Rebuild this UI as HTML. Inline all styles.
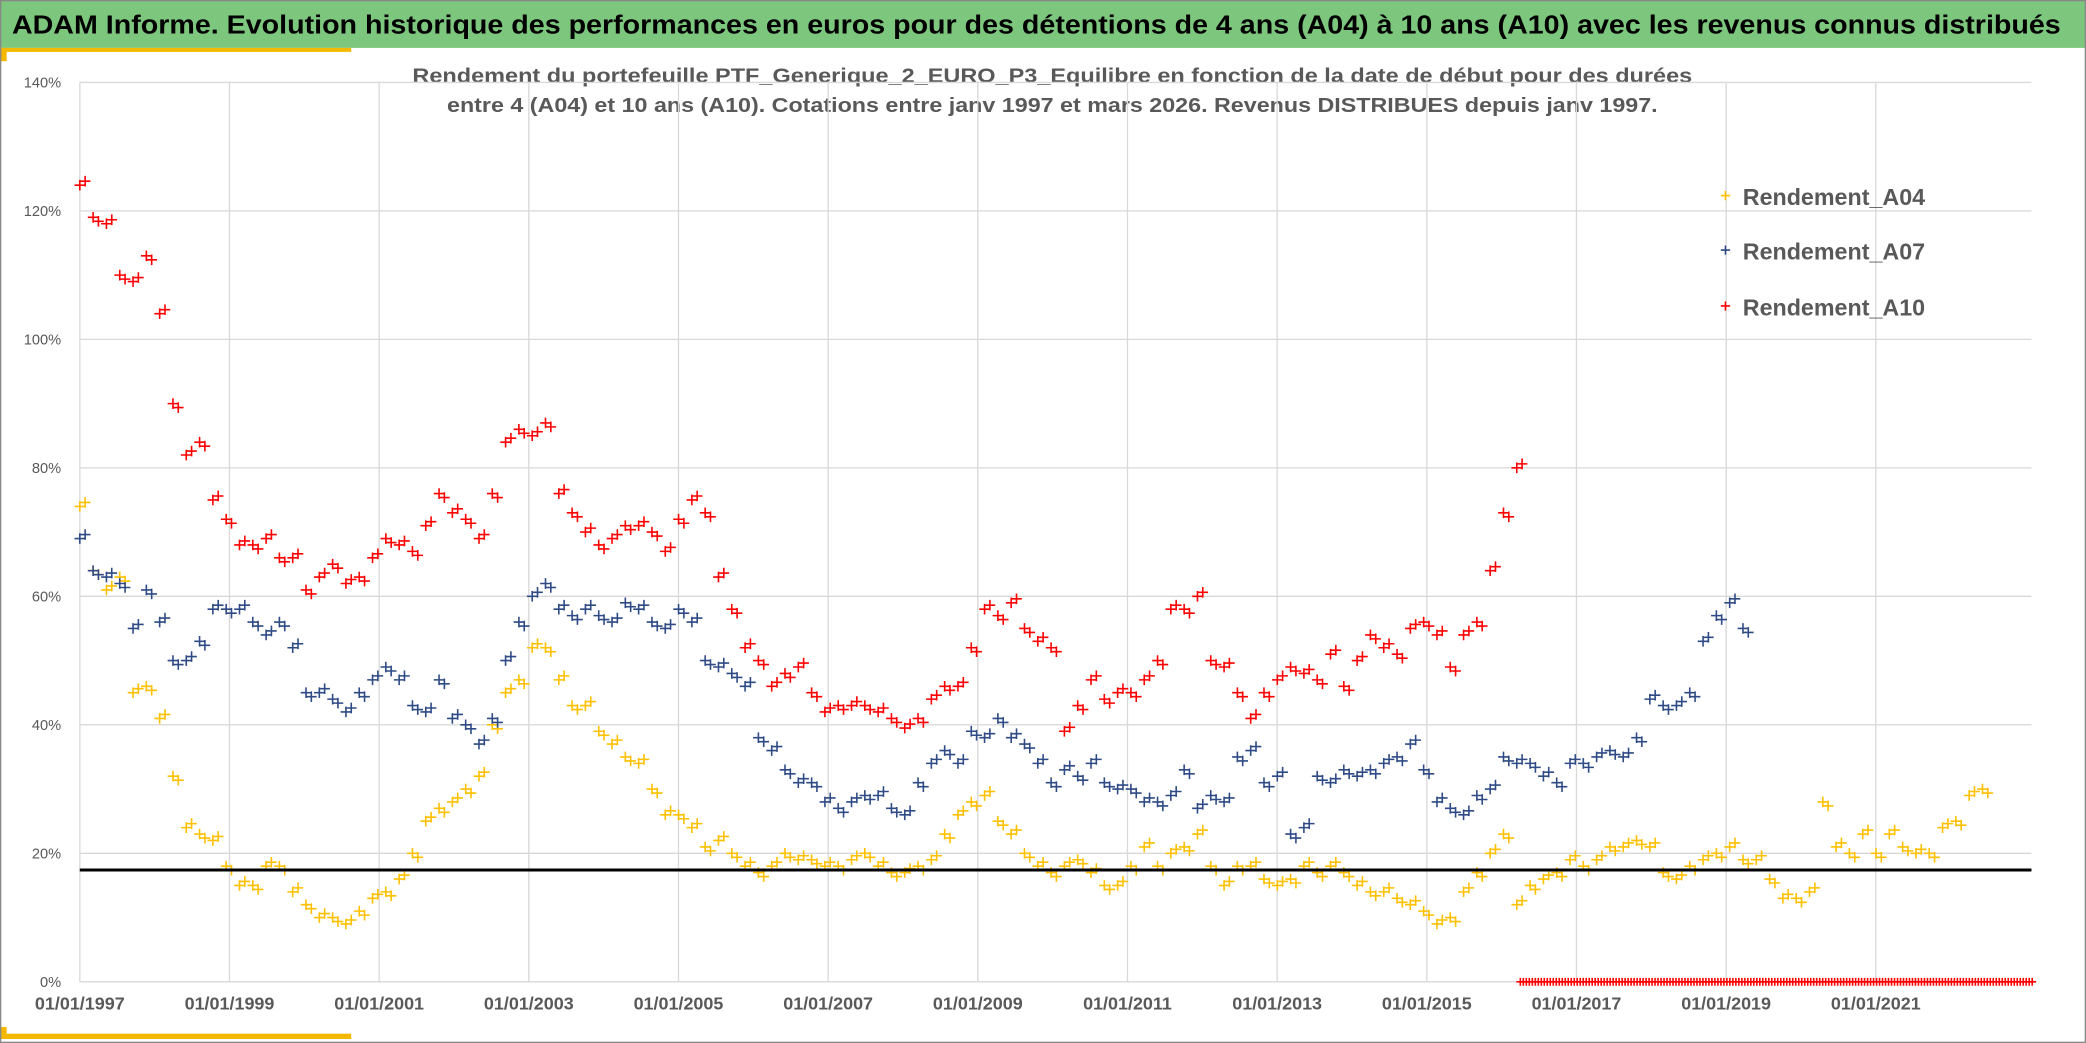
<!DOCTYPE html>
<html><head><meta charset="utf-8"><style>
html,body{margin:0;padding:0;background:#fff;}
svg{display:block;}
text{font-family:"Liberation Sans",sans-serif;}
</style></head><body>
<svg id="chart" width="2086" height="1043" viewBox="0 0 1568 784" preserveAspectRatio="none" xmlns="http://www.w3.org/2000/svg">
<rect x="0" y="0" width="1568" height="784" fill="#fff"/>
<rect x="0" y="0" width="1568" height="36" fill="#7dc67d"/>
<text x="9" y="25" font-size="19.5" font-weight="bold" fill="#000" textLength="1540" lengthAdjust="spacingAndGlyphs">ADAM Informe. Evolution historique des performances en euros pour des détentions de 4 ans (A04) à 10 ans (A10) avec les revenus connus distribués</text>
<rect x="0" y="36" width="264" height="3" fill="#f5b800"/>
<rect x="0" y="36" width="5" height="10" fill="#f5b800"/>
<rect x="0" y="777" width="264" height="4" fill="#f5b800"/>
<rect x="0" y="772" width="5" height="9" fill="#f5b800"/>
<rect x="0.5" y="0.5" width="1567" height="783" fill="none" stroke="#888" stroke-width="1"/>
<text x="310" y="62" font-size="15.5" font-weight="bold" fill="#595959" textLength="962" lengthAdjust="spacingAndGlyphs">Rendement du portefeuille PTF_Generique_2_EURO_P3_Equilibre  en fonction de la date de début pour des durées</text>
<text x="336" y="84" font-size="15.5" font-weight="bold" fill="#595959" textLength="910" lengthAdjust="spacingAndGlyphs">entre 4 (A04) et 10 ans (A10). Cotations entre janv 1997 et mars 2026. Revenus DISTRIBUES depuis janv 1997.</text>
<g id="grid"></g>
<g id="marks"></g>
<g id="legend"></g>
</svg>
<script>
// ---- data ----
const startYear = 1997.0;
const sampleStepYears = 0.1778;
const yTicks = [0, 20, 40, 60, 80, 100, 120, 140];
const yTickLabels = ["0%","20%","40%","60%","80%","100%","120%","140%"];
const xTickYears = [1997,1999,2001,2003,2005,2007,2009,2011,2013,2015,2017,2019,2021];
const xTickLabels = ["01/01/1997","01/01/1999","01/01/2001","01/01/2003","01/01/2005","01/01/2007","01/01/2009","01/01/2011","01/01/2013","01/01/2015","01/01/2017","01/01/2019","01/01/2021"];
const seriesNames = ["Rendement_A04","Rendement_A07","Rendement_A10"];
const a10 = [124,119,118,110,109,113,104,90,82,84,75,72,68,68,69,66,66,61,63,65,62,63,66,69,68,67,71,76,73,72,69,76,84,86,85,87,76,73,70,68,69,71,71,70,67,72,75,73,63,58,52,50,46,48,49,45,42,43,43,43,42,41,39.5,41,44,46,46,52,58,57,59,55,53,52,39,43,47,44,45,45,47,50,58,58,60,50,49,45,41,45,47,49,48,47,51,46,50,54,52,51,55,56,54,49,54,56,64,73,80];
const a07 = [69,64,63,62,55,61,56,50,50,53,58,58,58,56,54,56,52,45,45,44,42,45,47,49,47,43,42,47,41,40,37,41,50,56,60,62,58,57,58,57,56,59,58,56,55,58,56,50,49,48,46,38,36,33,31,31,28,27,28,29,29,27,26,31,34,36,34,39,38,41,38,37,34,31,33,32,34,31,30,30,28,28,29,33,27,29,28,35,36,31,32,23,24,32,31,33,32,33,34,35,37,33,28,27,26,29,30,35,34,34,32,31,34,34,35,36,35,38,44,43,43,45,53,57,59,55];
const a04 = [74,64,61,63,45,46,41,32,24,23,22,18,15,15,18,18,14,12,10,10,9,11,13,14,16,20,25,27,28,30,32,40,45,47,52,52,47,43,43,39,37,35,34,30,26,26,24,21,22,20,18,17,18,20,19,19,18,18,19,20,18,17,17,18,19,23,26,28,29,25,23,20,18,17,18,19,17,15,15,18,21,18,20,21,23,18,15,18,18,16,15,16,18,17,18,17,15,14,14,13,12,11,9,10,14,17,20,23,12,15,16,17,19,18,19,21,21,22,21,17,16,18,19,20,21,19,19,16,13,13,14,28,21,20,23,20,23,21,20,20,24,25,29,30];
const a10ZeroStart = 2016.25;
const a10ZeroEnd = 2023.1;
const referenceLevel = 17.4;

// ---- axes ----
const X0 = 60, XPY = 56.25, Y0 = 738, YPP = 4.829;
const xScale = t => X0 + (t - 1997) * XPY;
const yScale = v => Y0 - v * YPP;
const NS = "http://www.w3.org/2000/svg";
const grid = document.getElementById('grid');
const marks = document.getElementById('marks');
const legend = document.getElementById('legend');
const plotRight = 1527, plotTop = 62;

function mk(tag, attrs, parent){ const e=document.createElementNS(NS,tag); for(const k in attrs) e.setAttribute(k,attrs[k]); parent.appendChild(e); return e; }

yTicks.forEach((v,i)=>{
  const gl = mk('line',{x1:X0,x2:plotRight,y1:yScale(v),y2:yScale(v),stroke:'#d9d9d9','stroke-width':1},grid);
  
  
  const t = mk('text',{x:46,y:yScale(v)+4,'font-size':11,fill:'#595959','text-anchor':'end'},grid);
  t.textContent = yTickLabels[i];
  
  
});
xTickYears.forEach((yr,i)=>{
  const x = xScale(yr);
  const gl = mk('line',{x1:x,x2:x,y1:plotTop,y2:Y0,stroke:'#d9d9d9','stroke-width':1},grid);
  
  
  const t = mk('text',{x:x,y:759,'font-size':13.5,'font-weight':'bold',fill:'#595959','text-anchor':'middle'},grid);
  t.textContent = xTickLabels[i];
  
  
});

function plus(x,y,color,parent,s){
  s = s||4;
  const p = mk('path',{d:`M${x-s},${y}H${x+s}M${x},${y-s}V${y+s}`,stroke:color,'stroke-width':1.2,fill:'none'},parent);
  return p;
}
const colors = ['#ffc000','#2f4b85','#ff0000'];
[a04,a07,a10].forEach((arr,si)=>{
  const g = mk('g',{},marks);
  
  
  arr.forEach((v,i)=>{
    const t = startYear + i*sampleStepYears;
    const x = xScale(t), y = yScale(v);
    const p = plus(x,y,colors[si],g);
    
    
    const p2 = plus(x+4,y+(i%2?3:-3),colors[si],g);
    
    
  });
});
// zero-level A10 markers
const gz = mk('g',{},marks);


for(let t=a10ZeroStart; t<=a10ZeroEnd; t+=0.04){
  const p = plus(xScale(t),yScale(0),'#ff0000',gz,3);
  
  
}
const ref = mk('line',{x1:X0,x2:plotRight,y1:yScale(referenceLevel),y2:yScale(referenceLevel),stroke:'#000','stroke-width':2.2},marks);



// legend
const legY = [148,189,231];
seriesNames.forEach((n,i)=>{
  const g = mk('g',{},legend);
  
  
  plus(1297,legY[i]-1,colors[i],g,3.5);
  const t = mk('text',{x:1310,y:legY[i]+6,'font-size':17.5,'font-weight':'bold',fill:'#595959'},g);
  t.textContent = n;
});
</script>
</body></html>
